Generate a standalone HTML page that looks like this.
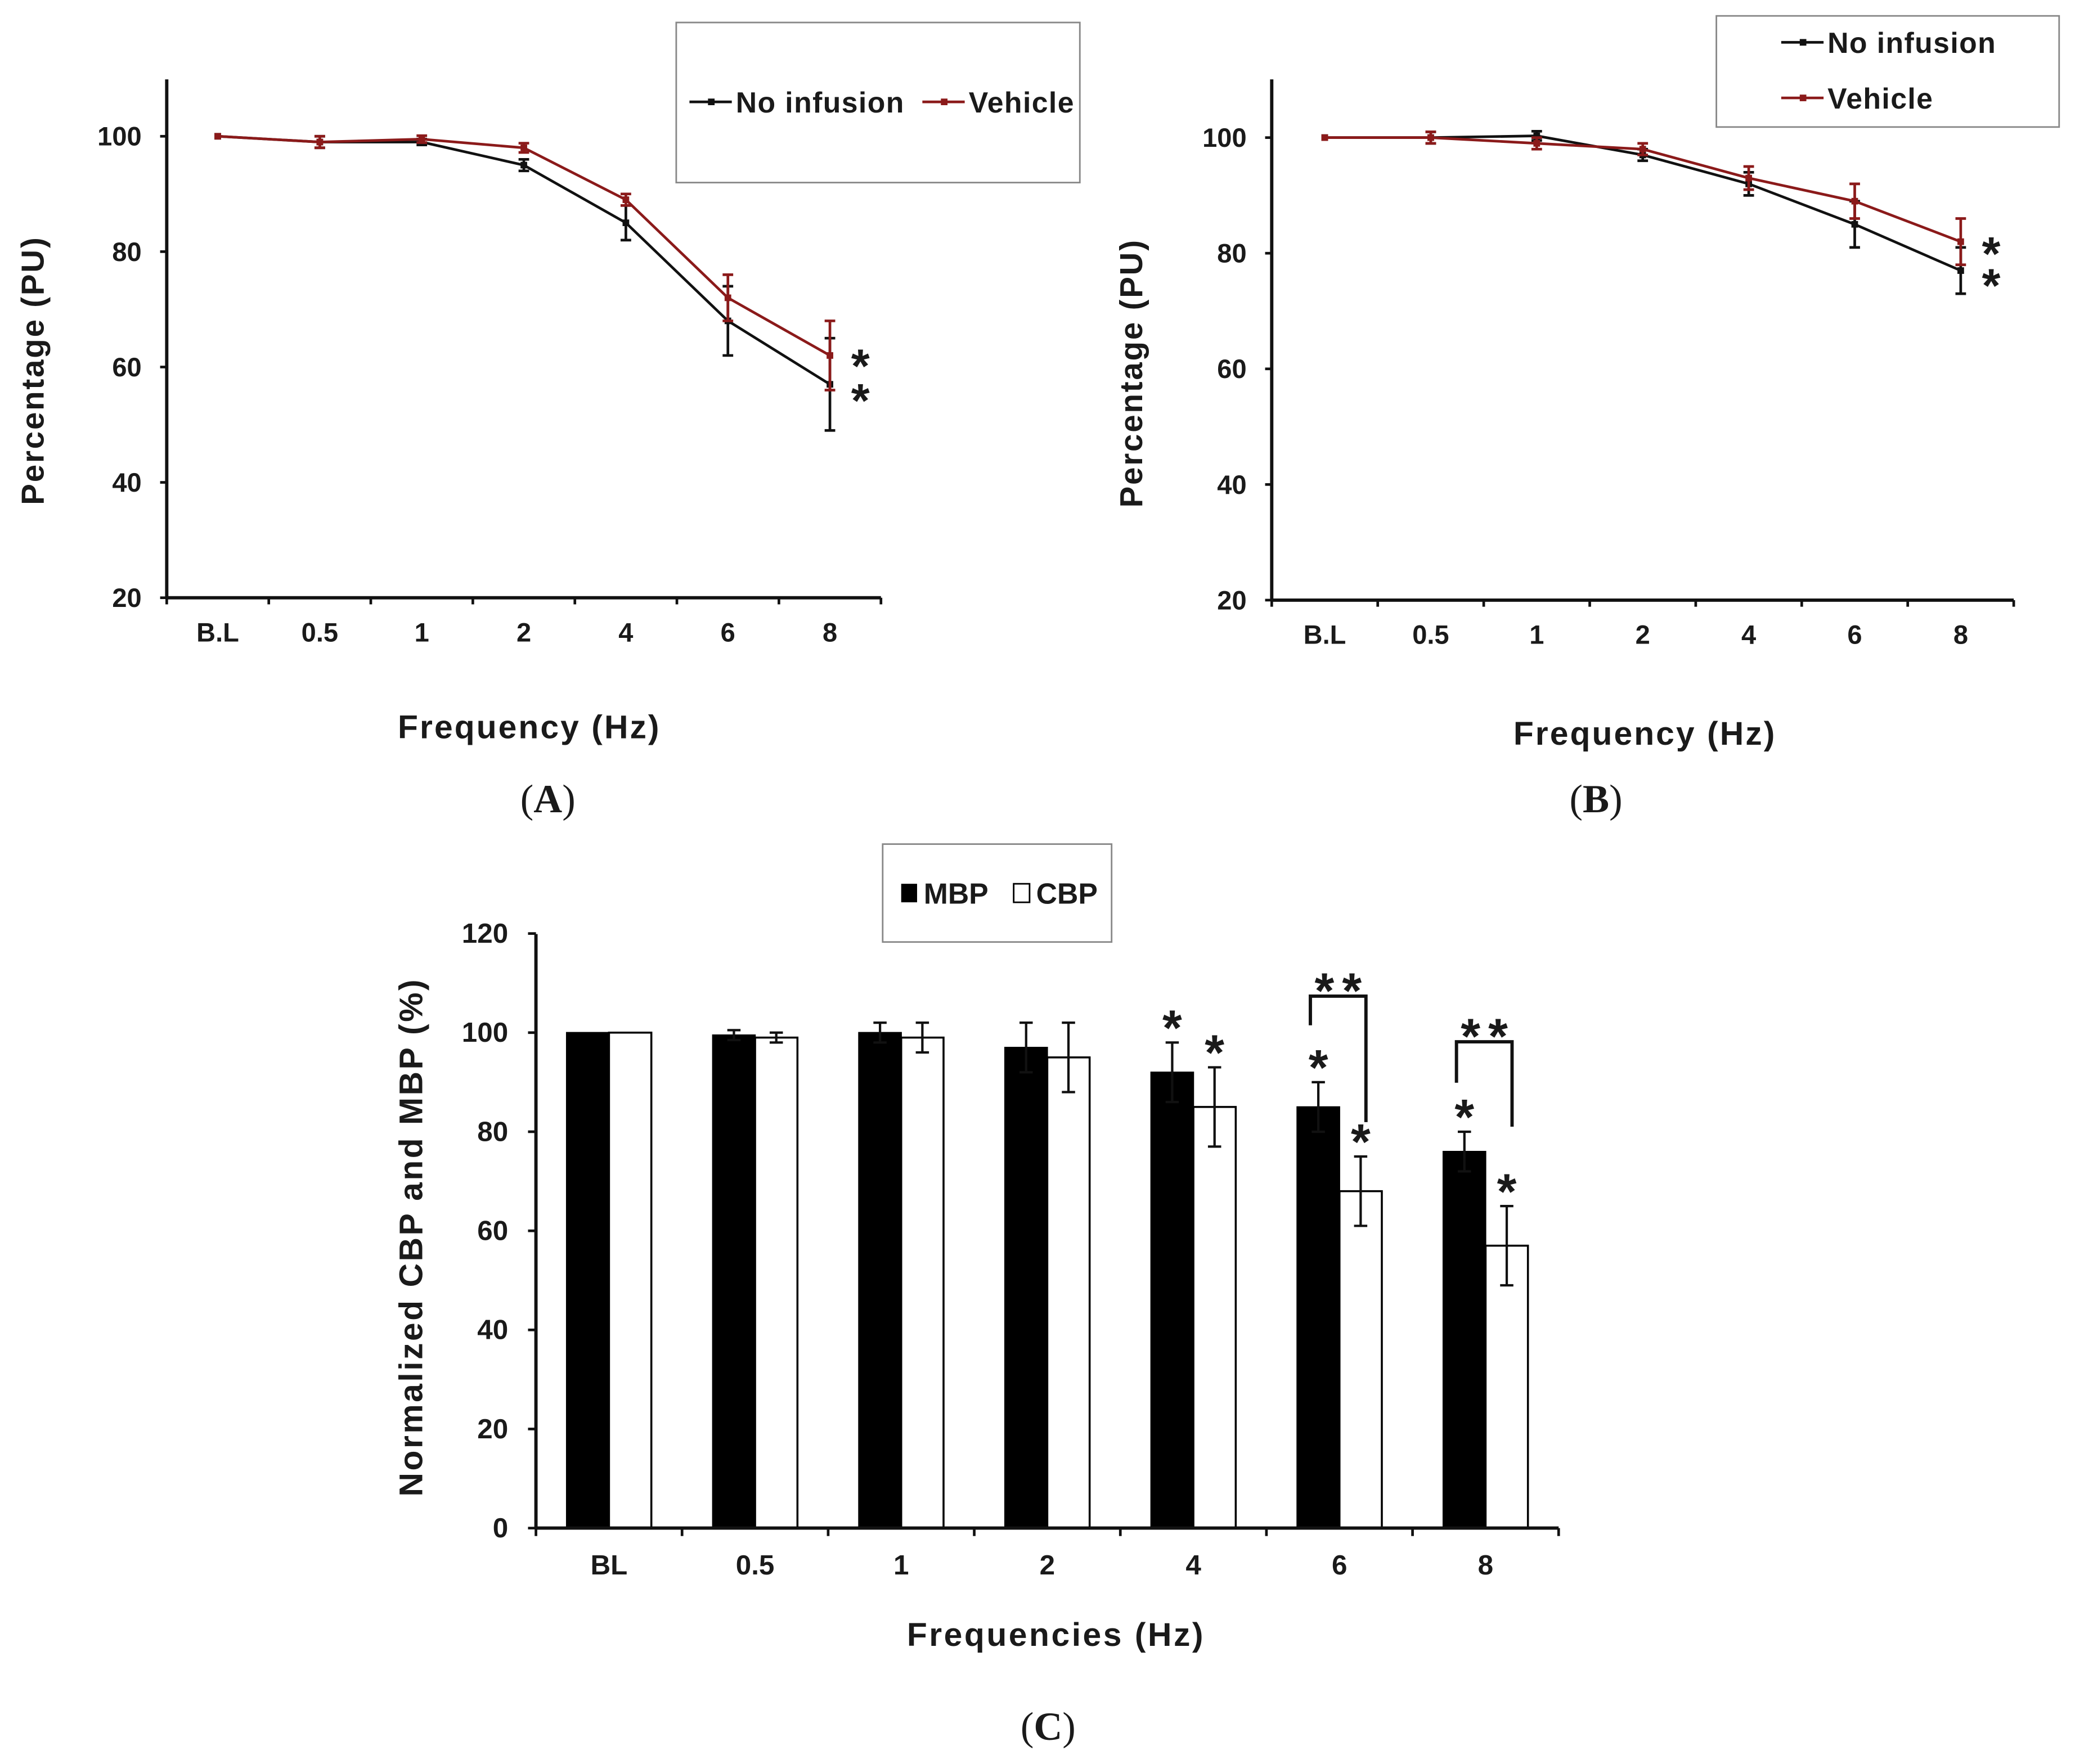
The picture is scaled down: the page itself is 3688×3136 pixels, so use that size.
<!DOCTYPE html>
<html><head><meta charset="utf-8"><style>
html,body{margin:0;padding:0;background:#fff;}
svg{display:block;}
text{font-family:"Liberation Sans",Arial,sans-serif;font-weight:bold;fill:#1a1a1a;}
.serif{font-family:"Liberation Serif",serif;font-weight:normal;}
</style></head><body>
<svg id="fig" xmlns="http://www.w3.org/2000/svg" width="3688" height="3136" viewBox="0 0 1568 1333.3">
<rect width="1568" height="1334" fill="#fff"/>
<g id="A"></g>
<g id="B"></g>
<g id="C"></g>
</svg>
<script>
const catsLine = ["B.L","0.5","1","2","4","6","8"];
const aNoInf = [100,99,99,95,85,68,57];
const aNoInfErr = [0,1,0.5,1,3,6,8];
const aVeh = [100,99,99.5,98,89,72,62];
const aVehErr = [0,1,0.6,0.8,1,4,6];
const bNoInf = [100,100,100.3,97,92,85,77];
const bNoInfErr = [0,1,0.8,1,2,4,4];
const bVeh = [100,100,99,98,93,89,82];
const bVehErr = [0,1,1,1,2,3,4];
const lineTicks = [20,40,60,80,100];
const catsBar = ["BL","0.5","1","2","4","6","8"];
const mbp = [100,99.5,100,97,92,85,76];
const mbpErr = [0,1,2,5,6,5,4];
const cbp = [100,99,99,95,85,68,57];
const cbpErr = [0,1,3,7,8,7,8];
const barTicks = [0,20,40,60,80,100,120];

const NS="http://www.w3.org/2000/svg";
function mk(parent,tag,attrs,txt){const e=document.createElementNS(NS,tag);for(const k in attrs)e.setAttribute(k,attrs[k]);if(txt!==undefined)e.textContent=txt;parent.appendChild(e);return e;}

function linePanel(g,cfg,s1,e1,s2,e2){
  const y=v=>cfg.y100+(100-v)*cfg.k;
  const x=i=>cfg.x0+cfg.step*(i+0.5);
  let e;
  e=mk(g,'line',{x1:cfg.x0,y1:cfg.top,x2:cfg.x0,y2:y(20),stroke:'#111','stroke-width':2.5});
  
  e=mk(g,'line',{x1:cfg.x0,y1:y(20),x2:cfg.x0+cfg.step*7,y2:y(20),stroke:'#111','stroke-width':2.5});
  
  lineTicks.forEach(t=>{
    mk(g,'line',{x1:cfg.x0-5,y1:y(t),x2:cfg.x0,y2:y(t),stroke:'#111','stroke-width':2});
    e=mk(g,'text',{x:cfg.x0-19,y:y(t)+7,'text-anchor':'end','font-size':20},t);
    
  });
  for(let i=0;i<=7;i++)mk(g,'line',{x1:cfg.x0+cfg.step*i,y1:y(20),x2:cfg.x0+cfg.step*i,y2:y(20)+5,stroke:'#111','stroke-width':2});
  catsLine.forEach((c,i)=>{e=mk(g,'text',{x:x(i),y:y(20)+33,'text-anchor':'middle','font-size':20},c);
    });
  [[s1,e1,'#111','no-infusion'],[s2,e2,'#8b1a1a','vehicle']].forEach(([s,er,col,nm])=>{
    s.forEach((v,i)=>{if(er[i]>0){mk(g,'line',{x1:x(i),y1:y(v-er[i]),x2:x(i),y2:y(v+er[i]),stroke:col,'stroke-width':2});
      mk(g,'line',{x1:x(i)-4,y1:y(v-er[i]),x2:x(i)+4,y2:y(v-er[i]),stroke:col,'stroke-width':2});
      mk(g,'line',{x1:x(i)-4,y1:y(v+er[i]),x2:x(i)+4,y2:y(v+er[i]),stroke:col,'stroke-width':2});}});
    e=mk(g,'polyline',{points:s.map((v,i)=>x(i)+','+y(v)).join(' '),fill:'none',stroke:col,'stroke-width':2});
    
    s.forEach((v,i)=>{e=mk(g,'rect',{x:x(i)-2.5,y:y(v)-2.5,width:5,height:5,fill:col});
      });
  });
  cfg.stars.forEach(sy=>{e=mk(g,'text',{x:x(6)+23,y:sy+19,'text-anchor':'middle','font-size':36,'font-weight':'normal'},'*');
    });
  e=mk(g,'text',{x:0,y:0,'text-anchor':'middle','font-size':24,'letter-spacing':1.2,transform:`translate(${cfg.ylx},${cfg.yly}) rotate(-90)`},'Percentage (PU)');
  
  e=mk(g,'text',{x:cfg.xlx,y:cfg.xly,'text-anchor':'middle','font-size':25,'letter-spacing':1.3},'Frequency (Hz)');
  
  const L=cfg.leg;
  e=mk(g,'rect',{x:L.x,y:L.y,width:L.w,height:L.h,fill:'#fff',stroke:'#888','stroke-width':1.2});
  
  L.items.forEach(([lx,ly,col,label])=>{
    mk(g,'line',{x1:lx,y1:ly,x2:lx+32,y2:ly,stroke:col,'stroke-width':2});
    mk(g,'rect',{x:lx+14,y:ly-2.5,width:5,height:5,fill:col});
    e=mk(g,'text',{x:lx+35,y:ly+8,'font-size':22,'letter-spacing':0.6},label);
    
  });
  e=mk(g,'text',{x:cfg.px,y:cfg.py,'text-anchor':'middle','font-size':30,class:'serif'});
  e.innerHTML='(<tspan font-weight="bold">'+cfg.pl+'</tspan>)';
  
}

linePanel(document.getElementById('A'),{x0:126,step:77.1,y100:103,k:4.36,top:60,stars:[270,296],ylx:33,yly:280,xlx:400,xly:558,
  leg:{x:511,y:17,w:305,h:121,items:[[521,77,'#111','No infusion'],[697,77,'#8b1a1a','Vehicle']]},px:414,py:614,pl:'A'},aNoInf,aNoInfErr,aVeh,aVehErr);
linePanel(document.getElementById('B'),{x0:961,step:80.1,y100:104,k:4.37,top:60,stars:[185,209],ylx:863,yly:282,xlx:1243,xly:563,
  leg:{x:1297,y:12,w:259,h:84,items:[[1346,32,'#111','No infusion'],[1346,74,'#8b1a1a','Vehicle']]},px:1206,py:614,pl:'B'},bNoInf,bNoInfErr,bVeh,bVehErr);

(function(){
  const g=document.getElementById('C');
  const x0=405,step=110.4,bw=32;
  const y=v=>1155-v*3.745;
  const cx=i=>x0+step*(i+0.5);
  let e;
  barTicks.forEach(t=>{mk(g,'line',{x1:x0-6,y1:y(t),x2:x0,y2:y(t),stroke:'#111','stroke-width':2});
    e=mk(g,'text',{x:x0-21,y:y(t)+7,'text-anchor':'end','font-size':21},t);
    });
  for(let i=0;i<=7;i++)mk(g,'line',{x1:x0+step*i,y1:y(0),x2:x0+step*i,y2:y(0)+6,stroke:'#111','stroke-width':2});
  catsBar.forEach((c,i)=>{e=mk(g,'text',{x:cx(i),y:1190,'text-anchor':'middle','font-size':21},c);
    });
  function err(xx,v,er){if(er<=0)return;mk(g,'line',{x1:xx,y1:y(v-er),x2:xx,y2:y(v+er),stroke:'#111','stroke-width':1.8});
    mk(g,'line',{x1:xx-5,y1:y(v-er),x2:xx+5,y2:y(v-er),stroke:'#111','stroke-width':1.8});
    mk(g,'line',{x1:xx-5,y1:y(v+er),x2:xx+5,y2:y(v+er),stroke:'#111','stroke-width':1.8});}
  mbp.forEach((v,i)=>{e=mk(g,'rect',{x:cx(i)-bw,y:y(v),width:bw,height:y(0)-y(v),fill:'#000',stroke:'#000','stroke-width':1});
    });
  cbp.forEach((v,i)=>{e=mk(g,'rect',{x:cx(i),y:y(v),width:bw,height:y(0)-y(v),fill:'#fff',stroke:'#000','stroke-width':1.5});
    });
  mbp.forEach((v,i)=>err(cx(i)-bw/2,v,mbpErr[i]));
  cbp.forEach((v,i)=>err(cx(i)+bw/2,v,cbpErr[i]));
  e=mk(g,'line',{x1:x0,y1:706,x2:x0,y2:y(0),stroke:'#111','stroke-width':2.5});
  
  e=mk(g,'line',{x1:x0,y1:y(0),x2:x0+step*7,y2:y(0),stroke:'#111','stroke-width':2.5});
  
  [4,5,6].forEach(i=>{
    e=mk(g,'text',{x:cx(i)-bw/2,y:y(mbp[i]+mbpErr[i])+2,'text-anchor':'middle','font-size':38,'font-weight':'normal'},'*');
    
    e=mk(g,'text',{x:cx(i)+bw/2,y:y(cbp[i]+cbpErr[i])+2,'text-anchor':'middle','font-size':38,'font-weight':'normal'},'*');
    
  });
  const brTop={5:65,6:68}, brLeft={5:43,6:37}, brRight={5:26,6:60};
  [5,6].forEach(i=>{
    const l=cx(i)-bw/2-6,r=cx(i)+bw/2+4;
    const top=y(mbp[i]+mbpErr[i])-brTop[i];
    const ly=y(mbp[i]+mbpErr[i])-brLeft[i], ry=y(cbp[i]+cbpErr[i])-brRight[i];
    e=mk(g,'polyline',{points:`${l},${ly} ${l},${top} ${r},${top} ${r},${ry}`,fill:'none',stroke:'#111','stroke-width':2.5});
    
    e=mk(g,'text',{x:(l+r)/2+3,y:top+9,'text-anchor':'middle','font-size':38,'font-weight':'normal','letter-spacing':'6'},'**');
    
  });
  e=mk(g,'text',{x:0,y:0,'text-anchor':'middle','font-size':25,'letter-spacing':1.5,transform:'translate(319,935) rotate(-90)'},'Normalized CBP and MBP (%)');
  
  e=mk(g,'text',{x:798,y:1244,'text-anchor':'middle','font-size':25,'letter-spacing':1.5},'Frequencies (Hz)');
  
  e=mk(g,'rect',{x:667,y:638,width:173,height:74,fill:'#fff',stroke:'#888','stroke-width':1.2});
  
  mk(g,'rect',{x:681,y:668,width:12,height:14,fill:'#000'});
  e=mk(g,'text',{x:698,y:683,'font-size':22},'MBP');
  
  mk(g,'rect',{x:766,y:668,width:12,height:14,fill:'#fff',stroke:'#000','stroke-width':1.2});
  e=mk(g,'text',{x:783,y:683,'font-size':22},'CBP');
  
  e=mk(g,'text',{x:792,y:1315,'text-anchor':'middle','font-size':30,class:'serif'});
  e.innerHTML='(<tspan font-weight="bold">C</tspan>)';
  
})();
</script>
</body></html>
